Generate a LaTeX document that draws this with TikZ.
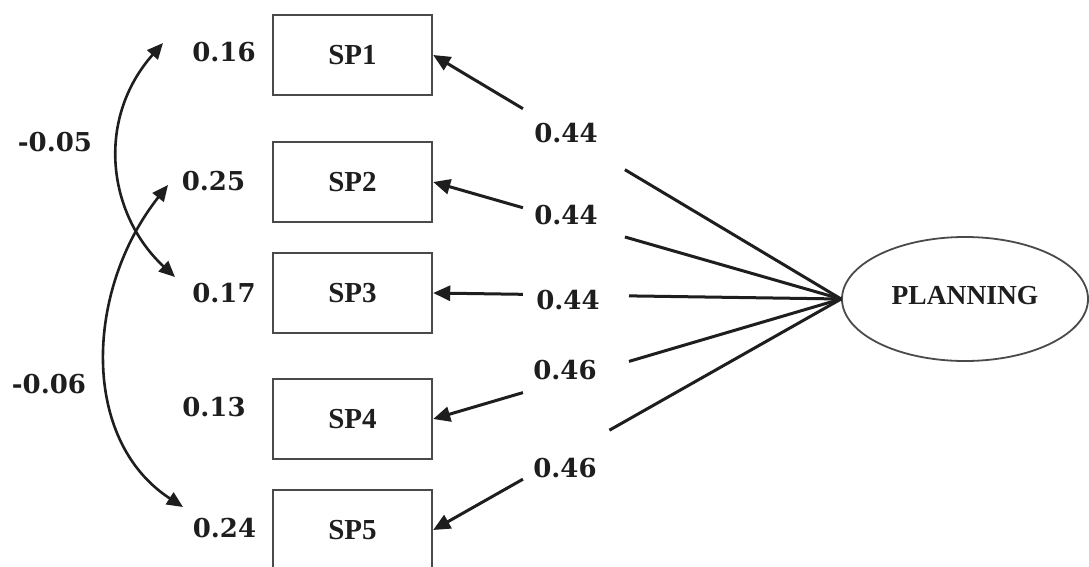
\documentclass[tikz,border=0pt]{standalone}
\usepackage{fontspec}
\setmainfont{Liberation Serif}
\newfontfamily\numfont{DejaVu Serif}
\usetikzlibrary{arrows.meta,shapes.geometric,calc}

\definecolor{ink}{HTML}{1E1E1E}
\definecolor{frame}{HTML}{4A4A4A}

\tikzset{
  itembox/.style={draw=frame, line width=2.4pt, fill=white, minimum width=159pt,
    minimum height=80pt, inner sep=0pt, text=ink,
    font=\fontsize{29}{32}\selectfont\bfseries},
  latent/.style={ellipse, draw=frame, line width=1.8pt, minimum width=246pt,
    minimum height=124pt, inner sep=0pt, text=ink,
    font=\fontsize{27.5}{30}\selectfont\bfseries},
  coef/.style={inner sep=0pt, text=ink, font=\numfont\fontsize{26}{30}\selectfont\bfseries},
  path/.style={draw=ink, line width=3pt},
  loadarrow/.style={path, -{Triangle[length=17pt,width=15pt]}},
  covarrow/.style={draw=ink, line width=2.6pt,
    {Triangle[length=16pt,width=14pt]}-{Triangle[length=16pt,width=14pt]}}
}

\begin{document}
\begin{tikzpicture}[x=1pt,y=-1pt]
  \clip (0,0) rectangle (1089,567);
  \fill[white] (0,0) rectangle (1089,567);

  % observed indicators
  \node[itembox] (sp1) at (352.5,55)  {SP1};
  \node[itembox] (sp2) at (352.5,182) {SP2};
  \node[itembox] (sp3) at (352.5,293) {SP3};
  \node[itembox] (sp4) at (352.5,419) {SP4};
  \node[itembox] (sp5) at (352.5,530) {SP5};

  % latent factor
  \node[latent] (pl) at (965,299) {\raisebox{7pt}{PLANNING}};

  % error variances
  \node[coef] (e1) at (224,52)  {0.16};
  \node[coef] (e2) at (213.5,181) {0.25};
  \node[coef] (e3) at (224,293) {0.17};
  \node[coef] (e4) at (214,407) {0.13};
  \node[coef] (e5) at (224.5,528) {0.24};

  % error covariances
  \node[coef] (c1) at (55,142) {-0.05};
  \node[coef] (c2) at (49,384) {-0.06};
  \coordinate (c1a) at (163,43);
  \coordinate (c1b) at (175,277);
  \coordinate (c2a) at (168,185);
  \coordinate (c2b) at (183,507);
  \draw[covarrow] (c1a) .. controls (95,120) and (108,215) .. (c1b);
  \draw[covarrow] (c2a) .. controls (85,290) and (80,440) .. (c2b);

  % factor loadings
  \node[coef] (l1) at (566,133)   {0.44};
  \node[coef] (l2) at (566,215.5) {0.44};
  \node[coef] (l3) at (568,300)   {0.44};
  \node[coef] (l4) at (565,370)   {0.46};
  \node[coef] (l5) at (565,468.5) {0.46};

  % loading paths, broken around their coefficients
  \foreach \i/\t in {1/0.53, 2/0.53, 3/0.52, 4/0.52, 5/0.568} {
    \draw[path] (pl.west) -- ($(pl.west)!\t!(sp\i.east)$);
    \draw[loadarrow] ($(pl.west)!0.78!(sp\i.east)$) -- (sp\i.east);
  }
\end{tikzpicture}
\end{document}
